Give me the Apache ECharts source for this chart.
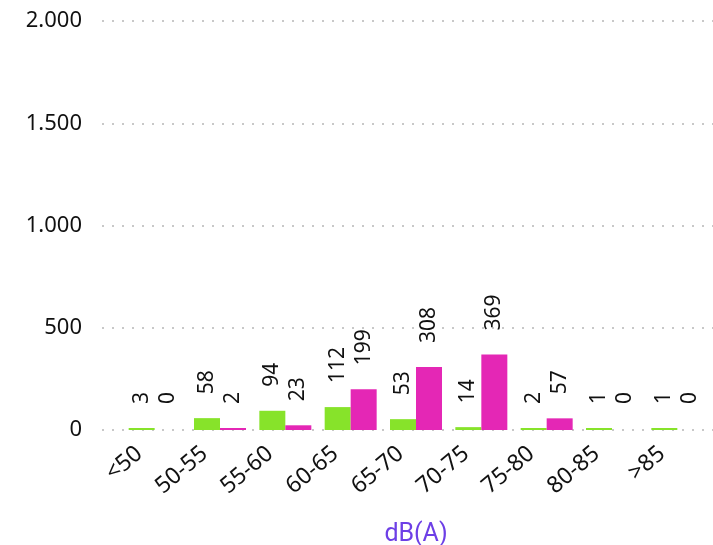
<!DOCTYPE html>
<head>
  <meta charset="utf-8">
  <title>dB(A)</title>
  <script src="https://cdn.jsdelivr.net/npm/echarts@6/dist/echarts.min.js"></script>
  <style>
    html, body { margin: 0; padding: 0; background: #fff; }
  </style>
</head>
<body>
  <div id="main" style="width: 713px;height:545px;"></div>
  <script>
    var categories = ['<50', '50-55', '55-60', '60-65', '65-70', '70-75', '75-80', '80-85', '>85'];
    var greenValues = [3, 58, 94, 112, 53, 14, 2, 1, 1];
    var pinkValues = [0, 2, 23, 199, 308, 369, 57, 0, 0];
    var yTicks = [0, 500, 1000, 1500, 2000];

    var myChart = echarts.init(document.getElementById('main'));

    // zero values get a label but no visible bar
    function toItems(values) {
      return values.map(function(v) {
        if (v === 0) return { value: v, itemStyle: { color: 'transparent' } };
        return v;
      });
    }

    function fmt(v) {
      return String(v).replace(/\B(?=(\d{3})+(?!\d))/g, '.');
    }

    var barLabel = {
      show: true,
      position: 'top',
      rotate: 90,
      align: 'left',
      verticalAlign: 'middle',
      distance: 24,
      fontFamily: 'Noto Sans',
      fontSize: 21,
      color: '#111'
    };

    var option = {
      animation: false,
      grid: [
        { left: 122, right: 3, top: 21, bottom: 115, outerBoundsMode: 'none', containLabel: false },
        { left: 102, right: 0, top: 21, bottom: 115, outerBoundsMode: 'none', containLabel: false }
      ],
      xAxis: [
        {
          type: 'category',
          gridIndex: 0,
          data: categories,
          axisLine: { show: false },
          axisTick: { show: false },
          axisLabel: {
            rotate: 40,
            margin: 8,
            padding: [0, 20, 0, 0],
            fontFamily: 'Noto Sans',
            fontSize: 23,
            color: '#111'
          },
          name: 'dB(A)',
          nameLocation: 'middle',
          nameGap: 92,
          nameTextStyle: {
            fontFamily: 'Roboto',
            fontSize: 25,
            color: '#6d3fe6'
          }
        },
        { type: 'value', gridIndex: 1, show: false }
      ],
      yAxis: [
        {
          type: 'value',
          gridIndex: 0,
          min: 0, max: 2000, interval: 500,
          show: false
        },
        {
          type: 'value',
          gridIndex: 1,
          min: yTicks[0], max: yTicks[yTicks.length - 1], interval: 500,
          axisLine: { show: false },
          axisTick: { show: false },
          axisLabel: {
            margin: 20,
            fontFamily: 'Noto Sans',
            fontSize: 22,
            color: '#111',
            formatter: fmt
          },
          splitLine: {
            lineStyle: { color: '#c8c8c8', width: 2, type: [2, 8] }
          }
        }
      ],
      series: [
        {
          type: 'bar',
          xAxisIndex: 0, yAxisIndex: 0,
          data: toItems(greenValues),
          barWidth: 26,
          barGap: '0%',
          barMinHeight: 2,
          itemStyle: { color: '#87e32a' },
          label: barLabel
        },
        {
          type: 'bar',
          xAxisIndex: 0, yAxisIndex: 0,
          data: toItems(pinkValues),
          barWidth: 26,
          barGap: '0%',
          barMinHeight: 2,
          itemStyle: { color: '#e427b5' },
          label: barLabel
        }
      ]
    };

    myChart.setOption(option);
  </script>
</body>
